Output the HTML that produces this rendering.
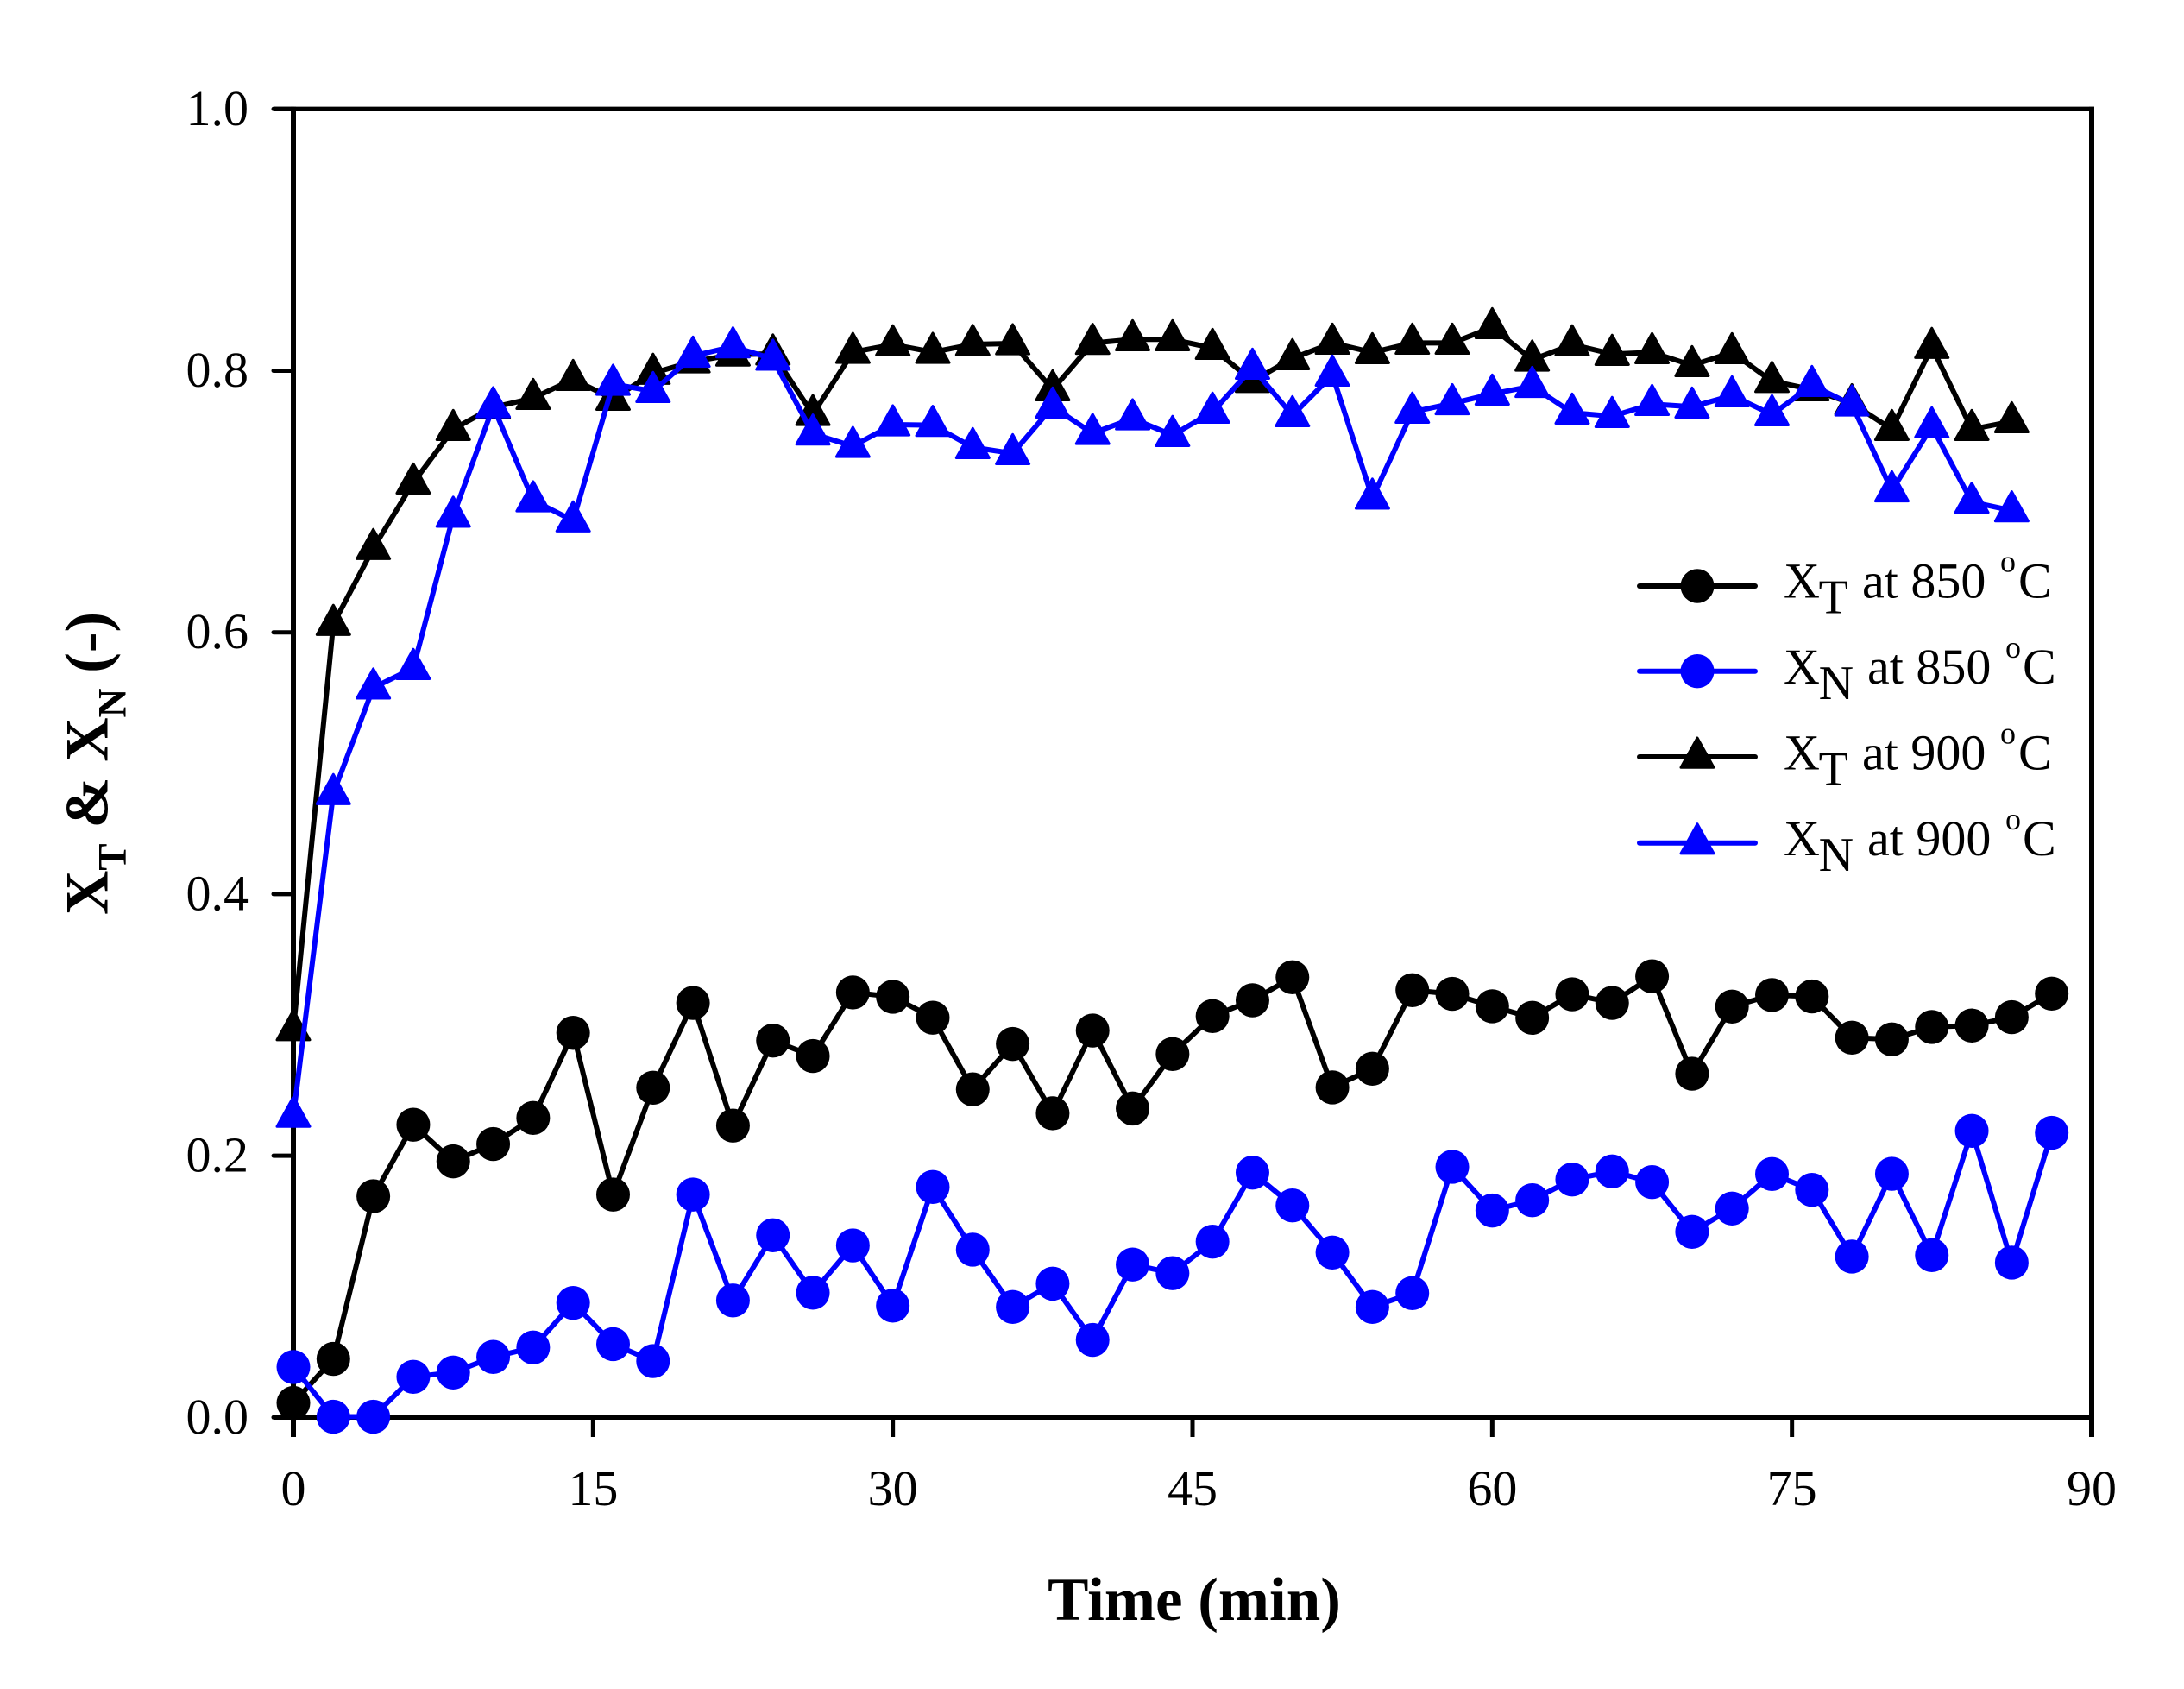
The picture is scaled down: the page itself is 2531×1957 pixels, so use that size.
<!DOCTYPE html>
<html lang="en">
<head>
<meta charset="utf-8">
<title>XT and XN versus time</title>
<style>
  html, body { margin: 0; padding: 0; background: #fff; }
  svg { display: block; }
  text { font-family: "Liberation Serif", "Times New Roman", serif; fill: #000; }
</style>
</head>
<body>
<svg id="chart" xmlns="http://www.w3.org/2000/svg" width="2531" height="1957" viewBox="0 0 2531 1957">
  <rect x="0" y="0" width="2531" height="1957" fill="#fff"/>
  <g id="axes"></g>
  <g id="series"></g>

  <text x="1384" y="1877" text-anchor="middle" font-size="71" font-weight="bold">Time (min)</text>
  <text transform="translate(124.7 1060) rotate(-90)" font-size="71" font-weight="bold" xml:space="preserve"><tspan>X</tspan><tspan dy="21" font-size="47">T</tspan><tspan dy="-21"> &amp; X</tspan><tspan dy="21" font-size="47">N</tspan><tspan dy="-21"> (-)</tspan></text>

  <g>
    <g>
      <line x1="1900" y1="679" x2="2034" y2="679" stroke="#000" stroke-width="6" stroke-linecap="round"/>
      <ellipse cx="1967" cy="679" rx="19.5" ry="19.7" fill="#000"/>
      <text y="692.7" font-size="58"><tspan x="2067">X</tspan><tspan x="2107.6" dy="18" font-size="56">T</tspan><tspan x="2158" dy="-18">at 850</tspan><tspan x="2318" dy="-30" font-size="36">o</tspan><tspan x="2339" dy="30">C</tspan></text>
    </g>
    <g>
      <line x1="1900" y1="777.7" x2="2034" y2="777.7" stroke="#0000ff" stroke-width="6" stroke-linecap="round"/>
      <ellipse cx="1967" cy="777.7" rx="19.5" ry="19.7" fill="#0000ff"/>
      <text y="792" font-size="58"><tspan x="2067">X</tspan><tspan x="2107.6" dy="18" font-size="56">N</tspan><tspan x="2164" dy="-18">at 850</tspan><tspan x="2324" dy="-30" font-size="36">o</tspan><tspan x="2344" dy="30">C</tspan></text>
    </g>
    <g>
      <line x1="1900" y1="877" x2="2034" y2="877" stroke="#000" stroke-width="6" stroke-linecap="round"/>
      <polygon points="1967,855 1986,889.2 1948,889.2" fill="#000" stroke="#000" stroke-width="3" stroke-linejoin="round"/>
      <text y="891.7" font-size="58"><tspan x="2067">X</tspan><tspan x="2107.6" dy="18" font-size="56">T</tspan><tspan x="2158" dy="-18">at 900</tspan><tspan x="2318" dy="-30" font-size="36">o</tspan><tspan x="2339" dy="30">C</tspan></text>
    </g>
    <g>
      <line x1="1900" y1="976.7" x2="2034" y2="976.7" stroke="#0000ff" stroke-width="6" stroke-linecap="round"/>
      <polygon points="1967,954.7 1986,988.9 1948,988.9" fill="#0000ff" stroke="#0000ff" stroke-width="3" stroke-linejoin="round"/>
      <text y="991" font-size="58"><tspan x="2067">X</tspan><tspan x="2107.6" dy="18" font-size="56">N</tspan><tspan x="2164" dy="-18">at 900</tspan><tspan x="2324" dy="-30" font-size="36">o</tspan><tspan x="2344" dy="30">C</tspan></text>
    </g>
  </g>
</svg>

<script>
const xTickLabels = ['0', '15', '30', '45', '60', '75', '90'];
const yTickLabels = ['0.0', '0.2', '0.4', '0.6', '0.8', '1.0'];

const time850 = [0, 2, 4, 6, 8, 10, 12, 14, 16, 18, 20, 22, 24, 26, 28, 30, 32, 34, 36, 38, 40, 42, 44, 46, 48, 50, 52, 54, 56, 58, 60, 62, 64, 66, 68, 70, 72, 74, 76, 78, 80, 82, 84, 86, 88];
const time900 = [0, 2, 4, 6, 8, 10, 12, 14, 16, 18, 20, 22, 24, 26, 28, 30, 32, 34, 36, 38, 40, 42, 44, 46, 48, 50, 52, 54, 56, 58, 60, 62, 64, 66, 68, 70, 72, 74, 76, 78, 80, 82, 84, 86];

const xt850 = [0.011, 0.0447, 0.169, 0.2237, 0.1957, 0.2089, 0.2289, 0.2939, 0.1703, 0.252, 0.3168, 0.223, 0.288, 0.2762, 0.3248, 0.3215, 0.3055, 0.2507, 0.2854, 0.2324, 0.2957, 0.2361, 0.2777, 0.3067, 0.3188, 0.3364, 0.2522, 0.2665, 0.3265, 0.3237, 0.3142, 0.3054, 0.3234, 0.3168, 0.3371, 0.2627, 0.314, 0.3228, 0.3217, 0.2902, 0.2889, 0.2984, 0.2995, 0.3059, 0.3239];
const xn850 = [0.0385, 0.0005, 0.0005, 0.031, 0.0343, 0.0462, 0.0534, 0.0875, 0.056, 0.043, 0.1703, 0.0894, 0.1392, 0.0953, 0.1314, 0.0854, 0.1761, 0.1282, 0.0844, 0.1022, 0.0592, 0.1168, 0.1102, 0.1343, 0.1871, 0.162, 0.126, 0.0844, 0.095, 0.1915, 0.1581, 0.166, 0.1818, 0.188, 0.1798, 0.1418, 0.1596, 0.186, 0.1739, 0.1229, 0.1862, 0.124, 0.219, 0.1183, 0.2175];
const xt900 = [0.2966, 0.6063, 0.6643, 0.7144, 0.7553, 0.772, 0.779, 0.7935, 0.7784, 0.7982, 0.807, 0.8122, 0.813, 0.7667, 0.8142, 0.82, 0.8142, 0.8202, 0.8208, 0.7856, 0.8211, 0.8239, 0.8239, 0.8173, 0.792, 0.8094, 0.8212, 0.814, 0.8212, 0.8212, 0.8331, 0.8083, 0.82, 0.8127, 0.814, 0.8041, 0.814, 0.792, 0.7856, 0.775, 0.7553, 0.818, 0.7553, 0.7612];
const xn900 = [0.2304, 0.477, 0.5577, 0.5726, 0.689, 0.7727, 0.7008, 0.6854, 0.7898, 0.7843, 0.8113, 0.8184, 0.809, 0.7518, 0.7423, 0.7588, 0.7584, 0.7414, 0.7368, 0.7724, 0.7522, 0.7634, 0.7507, 0.7685, 0.8021, 0.7658, 0.7968, 0.7028, 0.7685, 0.775, 0.7823, 0.7882, 0.7678, 0.7652, 0.7744, 0.7724, 0.781, 0.7665, 0.7889, 0.774, 0.7084, 0.7573, 0.6997, 0.6931];

const SVG_NS = 'http://www.w3.org/2000/svg';
const X_LEFT = 340, X_RIGHT = 2424, Y_BOTTOM = 1642.3, Y_TOP = 126.3;
const X_MAX = 90, Y_MAX = 1;

function xScale(v) {
  return X_LEFT + (v / X_MAX) * (X_RIGHT - X_LEFT);
}
function yScale(v) {
  return Y_BOTTOM - (v / Y_MAX) * (Y_BOTTOM - Y_TOP);
}
function make(tag, props, parent) {
  const el = document.createElementNS(SVG_NS, tag);
  for (const k in props) el.setAttribute(k, props[k]);
  parent.appendChild(el);
  return el;
}

const axes = document.getElementById('axes');
const seriesGroup = document.getElementById('series');

function drawAxes() {
  const frameTop = make('line', { x1: 317, y1: yScale(1), x2: X_RIGHT + 3, y2: yScale(1), stroke: '#000', 'stroke-width': 5.3 }, axes);
  
  
  const frameBottom = make('line', { x1: 317, y1: yScale(0), x2: X_RIGHT + 3, y2: yScale(0), stroke: '#000', 'stroke-width': 5.3 }, axes);
  
  
  const frameLeft = make('line', { x1: xScale(0), y1: yScale(1) - 2.6, x2: xScale(0), y2: 1665, stroke: '#000', 'stroke-width': 6 }, axes);
  
  
  const frameRight = make('line', { x1: xScale(90), y1: yScale(1) - 2.6, x2: xScale(90), y2: 1665, stroke: '#000', 'stroke-width': 6 }, axes);
  
  

  xTickLabels.forEach(function (label) {
    const px = xScale(Number(label));
    const tick = make('line', { x1: px, y1: Y_BOTTOM, x2: px, y2: 1665, stroke: '#000', 'stroke-width': 5 }, axes);
    
    
    const text = make('text', { x: px, y: 1744, 'text-anchor': 'middle', 'font-size': 58 }, axes);
    text.textContent = label;
    
    
  });

  yTickLabels.forEach(function (label) {
    const py = yScale(Number(label));
    const tick = make('line', { x1: 317, y1: py, x2: X_LEFT, y2: py, stroke: '#000', 'stroke-width': 5, 'stroke-linecap': 'round' }, axes);
    
    
    const text = make('text', { x: 288, y: py + 18.5, 'text-anchor': 'end', 'font-size': 58 }, axes);
    text.textContent = label;
    
    
  });
}

function drawSeries(times, values, color, shape, name) {
  const group = make('g', {}, seriesGroup);
  
  

  const pts = times.map(function (t, i) {
    return xScale(t).toFixed(1) + ',' + yScale(values[i]).toFixed(1);
  }).join(' ');
  const line = make('polyline', { points: pts, fill: 'none', stroke: color, 'stroke-width': 6, 'stroke-linejoin': 'round' }, group);
  
  

  times.forEach(function (t, i) {
    const cx = xScale(t);
    const cy = yScale(values[i]);
    let mark;
    if (shape === 'circle') {
      mark = make('ellipse', { cx: cx, cy: cy, rx: 19.5, ry: 19.7, fill: color }, group);
    } else {
      const p = (cx) + ',' + (cy - 22) + ' ' + (cx + 19) + ',' + (cy + 12.2) + ' ' + (cx - 19) + ',' + (cy + 12.2);
      mark = make('polygon', { points: p, fill: color, stroke: color, 'stroke-width': 3, 'stroke-linejoin': 'round' }, group);
    }
    
    
  });
}

drawAxes();
drawSeries(time850, xt850, '#000000', 'circle', 'xt-850');
drawSeries(time850, xn850, '#0000ff', 'circle', 'xn-850');
drawSeries(time900, xt900, '#000000', 'triangle', 'xt-900');
drawSeries(time900, xn900, '#0000ff', 'triangle', 'xn-900');
</script>
</body>
</html>
